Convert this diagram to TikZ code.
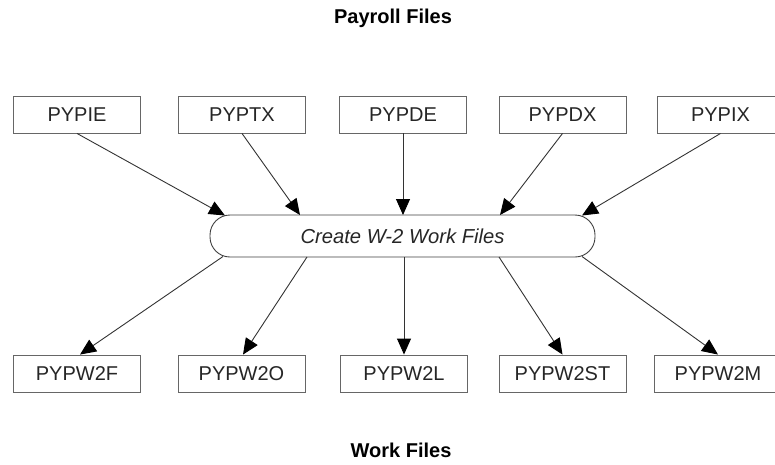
\documentclass[tikz,border=0pt]{standalone}
\usepackage{fontspec}
\setmainfont{Liberation Sans}
\usetikzlibrary{arrows.meta,shadows}
\begin{document}
\begin{tikzpicture}[x=1pt,y=-1pt,
  filebox/.style={draw=black!60, line width=0.9pt, fill=white,
    general shadow={fill=black!55, shadow xshift=0.9pt, shadow yshift=-0.9pt},
    minimum width=127pt, minimum height=37pt, inner sep=0pt,
    font=\fontsize{20}{24}\selectfont, text=black!85},
  process/.style={draw=black!75, line width=0.9pt, fill=white,
    rounded corners=20pt, minimum width=385pt, minimum height=42pt, inner sep=0pt,
    font=\fontsize{20.2}{24}\selectfont\itshape, text=black!85},
  flow/.style={draw=black!80, line width=0.9pt,
    -{Triangle[length=16pt,width=14pt,color=black]}},
  heading/.style={font=\fontsize{20}{24}\selectfont\bfseries, anchor=base, inner sep=0pt}]
\useasboundingbox (0,0) rectangle (775,464);
\clip (0,0) rectangle (775,464);

% headings
\node[heading] (payroll) at (393,23) {Payroll Files};
\node[heading] (work) at (401,457) {Work Files};

% payroll files
\node[filebox] (ie) at (77,114.5) {PYPIE};
\node[filebox] (tx) at (242,114.5) {PYPTX};
\node[filebox] (de) at (403,114.5) {PYPDE};
\node[filebox] (dx) at (562.5,114.5) {PYPDX};
\node[filebox] (ix) at (720.5,114.5) {PYPIX};

% process
\node[process] (proc) at (402.5,236) {Create W-2 Work Files};

% work files
\node[filebox] (w2f) at (77,373.5) {PYPW2F};
\node[filebox] (w2o) at (241.5,373.5) {PYPW2O};
\node[filebox] (w2l) at (404,373.5) {PYPW2L};
\node[filebox] (w2st) at (562.5,373.5) {PYPW2ST};
\node[filebox] (w2m) at (718,373.5) {PYPW2M};

% attachment points on the process outline
\coordinate (in1) at (225,215.5);
\coordinate (in2) at (300,215);
\coordinate (in3) at (403,215);
\coordinate (in4) at (500,215);
\coordinate (in5) at (582,215.5);
\coordinate (out1) at (223,256.5);
\coordinate (out2) at (307,257);
\coordinate (out3) at (404,257);
\coordinate (out4) at (499,257);
\coordinate (out5) at (582,256.5);

% inputs
\draw[flow] (ie.south) -- (in1);
\draw[flow] (tx.south) -- (in2);
\draw[flow] (de.south) -- (in3);
\draw[flow] (dx.south) -- (in4);
\draw[flow] (ix.south) -- (in5);

% outputs
\draw[flow] (out1) -- ([xshift=3pt]w2f.north);
\draw[flow] (out2) -- ([xshift=1.5pt]w2o.north);
\draw[flow] (out3) -- (w2l.north);
\draw[flow] (out4) -- (w2st.north);
\draw[flow] (out5) -- (w2m.north);
\end{tikzpicture}
\end{document}
